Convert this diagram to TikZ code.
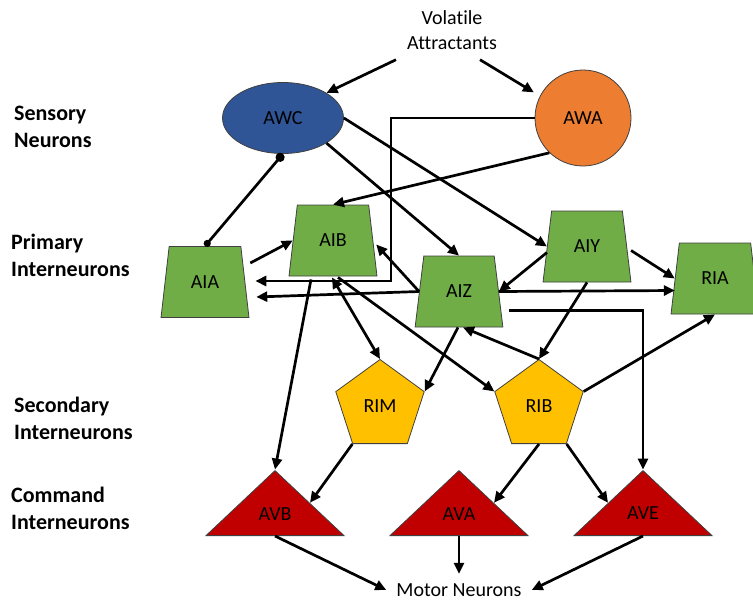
\documentclass[tikz,border=0pt]{standalone}
\usepackage{fontspec}
\setmainfont{Carlito}[Ligatures=NoCommon]
\usetikzlibrary{
  arrows.meta,
  shapes.geometric
}
\definecolor{awcblue}{HTML}{2F5597}
\definecolor{awaorange}{HTML}{ED7D31}
\definecolor{primgreen}{HTML}{70AD47}
\definecolor{secyellow}{HTML}{FFC000}
\definecolor{cmdred}{HTML}{C00000}
\definecolor{rimgray}{HTML}{404040}

\begin{document}
\begin{tikzpicture}[
      x=1pt, y=-1pt,
      every node/.style={font=\fontsize{20}{25}\selectfont},
      layer/.style={
        font=\fontsize{22}{27}\selectfont\bfseries,
        align=left, anchor=west, inner sep=0pt
      },
      sensory/.style={
        draw=rimgray, line width=0.8pt, inner sep=0pt
      },
      primary/.style={
        trapezium, trapezium left angle=76, trapezium right angle=76,
        trapezium stretches=true,
        minimum width=88pt, minimum height=71pt, inner sep=0pt,
        draw=rimgray, line width=0.8pt, fill=primgreen
      },
      secondary/.style={
        regular polygon, regular polygon sides=5,
        minimum size=93pt, inner sep=0pt,
        draw=rimgray, line width=0.8pt, fill=secyellow
      },
      command/.style={
        isosceles triangle, isosceles triangle stretches,
        shape border rotate=90, anchor=lower side,
        minimum width=138pt, minimum height=65pt, inner sep=0pt,
        draw=rimgray, line width=0.8pt, fill=cmdred
      },
      arrow/.style={-{Triangle[length=11pt,width=10pt]}, line width=2.7pt},
      biarrow/.style={{Triangle[length=11pt,width=10pt]}-{Triangle[length=11pt,width=10pt]}, line width=2.7pt},
      synapse/.style={{Circle[length=9pt]}-{Circle[length=7pt]}, line width=2.7pt}
    ]
      \useasboundingbox (0,0) rectangle (753,600);

      % Layer names
      \node[layer] (senslbl) at (14,126.5) {Sensory\\Neurons};
      \node[layer] (primlbl) at (11,255.5) {Primary\\Interneurons};
      \node[layer] (seclbl) at (14,418.5) {Secondary\\Interneurons};
      \node[layer] (cmdlbl) at (11,508) {Command\\Interneurons};

      % Stimulus and output
      \node[align=center, inner sep=0pt] (vol) at (452,30) {Volatile\\Attractants};
      \node[inner xsep=10pt, inner ysep=9.5pt] (motor) at (459,590) {Motor Neurons};

      % Sensory neurons
      \node[sensory, ellipse, fill=awcblue, minimum width=121pt, minimum height=71pt] (awc) at (283,118) {AWC};
      \node[sensory, circle, fill=awaorange, minimum size=96pt] (awa) at (583,118) {AWA};

      % Primary interneurons
      \node[primary] (aia) at (205,282) {AIA};
      \node[primary] (aib) at (333,240.5) {AIB};
      \node[primary] (aiz) at (459,291.5) {AIZ};
      \node[primary] (aiy) at (587,246.5) {AIY};
      \node[primary] (ria) at (715,278.5) {RIA};

      % Secondary interneurons
      \node[secondary] (rim) at (380,406) {RIM};
      \node[secondary] (rib) at (539,406) {RIB};

      % Command interneurons
      \node[command] (avb) at (275,536) {AVB};
      \node[command] (ava) at (459,536) {AVA};
      \node[command] (ave) at (643,536) {AVE};

      % Attractants
      \draw[arrow] ([xshift=-56pt,yshift=-10pt]vol.south) -- (awc.30);
      \draw[arrow, shorten >=7pt] ([xshift=28pt,yshift=-10pt]vol.south) -- (awa.153);

      % Sensory outputs
      \draw[synapse] (awc.south) -- (aia.north);
      \draw[arrow] (awc.east) -- (aiy.west);
      \draw[arrow] (awc.-30) -- (aiz.north);
      \draw[arrow] (awa.226) -- (aib.north);
      \coordinate (awaturn) at (391,281);
      \draw[arrow] (awa.west) -| (awaturn) -- ([xshift=10pt]aia.east |- awaturn);

      % Primary layer
      \draw[arrow] ([xshift=5pt,yshift=19pt]aia.east) -- (aib.west);
      \draw[arrow] (aiz.west) -- ([xshift=11pt,yshift=-15pt]aia.east);
      \draw[arrow] (aiz.west) -- ([xshift=3pt,yshift=-4pt]aib.east);
      \draw[arrow] ([yshift=-6pt]aiy.west) -- (aiz.east);
      \draw[arrow] ([xshift=4pt,yshift=-4pt]aiy.east) -- (ria.west);
      \draw[arrow] (aiz.east) -- ([yshift=-12pt]ria.west);

      % Down to secondary
      \draw[arrow] ([xshift=-22pt,yshift=-3pt]aib.south) -- (avb.apex);
      \draw[biarrow] ([xshift=-1pt,yshift=-1pt]aib.south) -- (rim.corner 1);
      \draw[arrow] ([xshift=5pt,yshift=-1pt]aib.south) -- (rib.corner 2);
      \draw[arrow] ([xshift=-1pt]aiz.south) -- (rim.corner 5);
      \draw[arrow] (rib.corner 1) -- ([xshift=4pt]aiz.south);
      \draw[arrow] (aiy.south) -- (rib.corner 1);
      \draw[arrow] (rib.corner 5) -- (ria.south);
      \draw[arrow] ([xshift=10pt,yshift=-19pt]aiz.east) -| (ave.apex);

      % Command layer
      \draw[arrow] (rim.corner 3) -- (avb.right side);
      \draw[arrow] (rib.south) -- (ava.right side);
      \draw[arrow] (rib.corner 4) -- (ave.left side);
      \draw[arrow] (avb.lower side) -- (motor.west);
      \draw[arrow] (ava.lower side) -- (motor.north);
      \draw[arrow] (ave.lower side) -- (motor.east);
\end{tikzpicture}
\end{document}
